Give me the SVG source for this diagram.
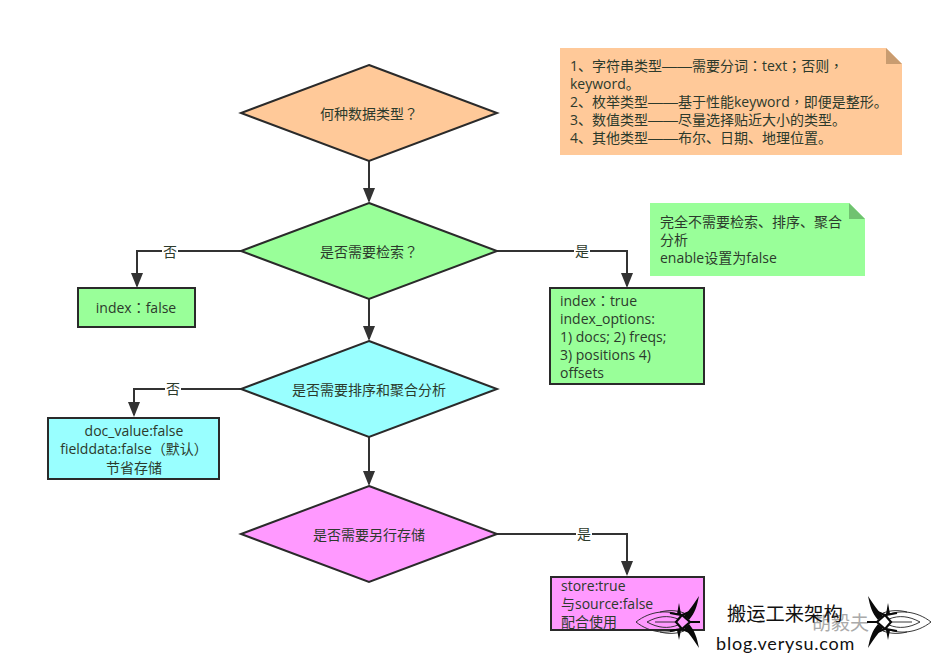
<svg xmlns="http://www.w3.org/2000/svg" width="934" height="662" viewBox="0 0 934 662">
<defs>
<marker id="ah" markerUnits="userSpaceOnUse" markerWidth="15" markerHeight="12" refX="13" refY="6" orient="auto"><path d="M0 0L15 6L0 12Z" fill="#333"/></marker>
<g id="orn">
<path class="orl" d="M636 622C650 611 668 609 682 616M636 622C650 633 668 635 682 628M647 622C658 616 668 615 678 619M647 622C658 628 668 629 678 625M655 622H676"/>
<path class="orl" d="M660 612C668 610 676 610 684 613M660 632C668 634 676 634 684 631"/>
<path class="ork" d="M670 613L682 615L692 611M670 631L682 629L692 633M682 615L676 622L682 629M682 615L690 622L682 629M690 622H700"/>
<path class="orf" d="M684 616C689 611 693 605 699 596C697 606 695 613 689 620Z"/>
<path class="orf" d="M684 628C689 633 693 639 699 648C697 638 695 631 689 624Z"/>
<path class="orf" d="M677 614L679 603L681 614Z"/>
<path class="orf" d="M677 630L679 640L681 630Z"/>
</g>
</defs>
<style>
text{font-family:"Open Sans","Noto Sans CJK SC",sans-serif;font-size:14px;fill:#2c3a2c}
.m{text-anchor:middle}
.p{font-family:"Noto Sans CJK TC",sans-serif}
.d{font-family:"Liberation Sans",sans-serif;font-size:15px}
.s{stroke:#2a2a2a;stroke-width:2}
.c{fill:none;stroke:#333;stroke-width:2;marker-end:url(#ah)}
.lb{fill:#fff}
.orl{fill:none;stroke:#222;stroke-width:.9}
.ork{fill:none;stroke:#0a0a0a;stroke-width:2.2}
.orf{fill:#0a0a0a}
</style>
<rect width="934" height="662" fill="#fff"/>
<g id="connectors">
<path class="c" d="M369 161V201"/>
<path class="c" d="M369 299V339"/>
<path class="c" d="M369 437V484"/>
<path class="c" d="M241 251H137V286"/>
<path class="c" d="M497 251H627V286"/>
<path class="c" d="M241 389H134V415"/>
<path class="c" d="M497 534H627V574"/>
<rect class="lb" x="162" y="243" width="16" height="16"/><text class="m" x="170" y="257">否</text>
<rect class="lb" x="574" y="243" width="16" height="16"/><text class="m" x="582" y="256">是</text>
<rect class="lb" x="165" y="381" width="16" height="16"/><text class="m" x="173" y="394">否</text>
<rect class="lb" x="576" y="526" width="16" height="16"/><text class="m" x="584" y="539">是</text>
</g>
<g id="d1"><path class="s" d="M369 65L497 113L369 161L241 113Z" fill="#ffc999"/><text class="m" x="369" y="119">何种数据类型<tspan class="p">？</tspan></text></g>
<g id="d2"><path class="s" d="M369 203L497 251L369 299L241 251Z" fill="#99ff99"/><text class="m" x="369" y="257">是否需要检索<tspan class="p">？</tspan></text></g>
<g id="d3"><path class="s" d="M369 341L497 389L369 437L241 389Z" fill="#99ffff"/><text class="m" x="369" y="395">是否需要排序和聚合分析</text></g>
<g id="d4"><path class="s" d="M369 486L497 534L369 582L241 534Z" fill="#ff99ff"/><text class="m" x="369" y="540">是否需要另行存储</text></g>
<g id="n-index-false"><rect class="s" x="78" y="288" width="117" height="39" fill="#99ff99"/><text class="m" x="136" y="313">index<tspan class="p">：</tspan>false</text></g>
<g id="n-index-true"><rect class="s" x="550" y="288" width="154" height="96" fill="#99ff99"/>
<text x="560" y="306">index<tspan class="p">：</tspan>true</text><text x="560" y="324">index_options:</text><text x="560" y="342">1) docs; 2) freqs;</text><text x="560" y="360">3) positions 4)</text><text x="560" y="378">offsets</text></g>
<g id="n-doc"><rect class="s" x="48" y="418" width="171" height="61" fill="#99ffff"/>
<text class="m" x="134" y="436">doc_value:false</text><text class="m" x="134" y="454">fielddata:false（默认）</text><text class="m" x="134" y="473">节省存储</text></g>
<g id="n-store"><rect class="s" x="551" y="577" width="153" height="53" fill="#ff99ff"/>
<text x="561" y="591">store:true</text><text x="561" y="609">与source:false</text><text x="561" y="627">配合使用</text></g>
<g id="note1"><path d="M560 48H886L902 64V155H560Z" fill="#ffc999"/><path d="M886 48L902 64H886Z" fill="#c99c70"/>
<text x="570" y="71">1、字符串类型<tspan class="d">——</tspan>需要分词<tspan class="p">：</tspan>text<tspan class="p">；</tspan>否则<tspan class="p">，</tspan></text><text x="570" y="89">keyword。</text><text x="570" y="107">2、枚举类型<tspan class="d">——</tspan>基于性能keyword<tspan class="p">，</tspan>即便是整形。</text><text x="570" y="125">3、数值类型<tspan class="d">——</tspan>尽量选择贴近大小的类型。</text><text x="570" y="143">4、其他类型<tspan class="d">——</tspan>布尔、日期、地理位置。</text></g>
<g id="note2"><path d="M650 203H849L865 219V276H650Z" fill="#99ff99"/><path d="M849 203L865 219H849Z" fill="#70c270"/>
<text x="660" y="227">完全不需要检索、排序、聚合</text><text x="660" y="245">分析</text><text x="660" y="263">enable设置为false</text></g>
<g id="watermark">
<text x="812" y="630" style="font-size:19px;fill:#aaa">胡毅夫</text>
<text x="727" y="621" style="font-size:19.300px;fill:#111">搬运工来架构</text>
<text x="716" y="650" style="font-size:18px;fill:#111;font-family:'Lato',sans-serif;letter-spacing:.8px">blog.verysu.com</text>
<use href="#orn"/>
<use href="#orn" transform="translate(1567 0) scale(-1 1)"/>
</g>
</svg>
